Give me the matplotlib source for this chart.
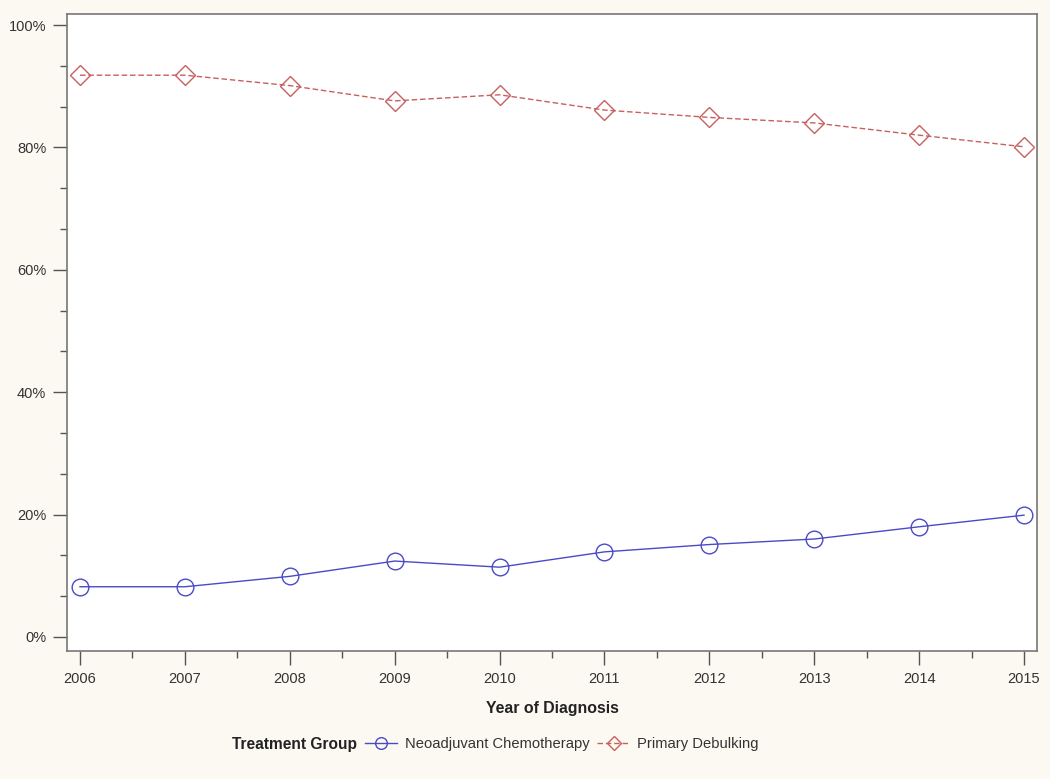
import matplotlib
matplotlib.use("Agg")
import matplotlib.pyplot as plt
from matplotlib.ticker import MultipleLocator, FuncFormatter

years = [2006, 2007, 2008, 2009, 2010, 2011, 2012, 2013, 2014, 2015]
neoadjuvant = [8.2, 8.2, 9.9, 12.4, 11.4, 13.9, 15.1, 16.0, 18.0, 19.9]
primary = [91.8, 91.8, 90.1, 87.6, 88.6, 86.1, 84.9, 84.0, 82.0, 80.1]
series_names = ["Neoadjuvant Chemotherapy", "Primary Debulking"]

plt.rcParams['font.family'] = ['Liberation Sans', 'DejaVu Sans']

fig = plt.figure(figsize=(10.5, 7.79), dpi=100)
fig.patch.set_facecolor('#fcf9f2')
ax = fig.add_axes([67/1050, 1-651/779, (1037-67)/1050, (651-14)/779])
ax.set_facecolor('white')

blue = '#4a4ac8'
red = '#c86060'
ax.plot(years, neoadjuvant, color=blue, lw=1.0, marker='o', ms=12,
        mfc='none', mec=blue, mew=1.0, label=series_names[0])
ax.plot(years, primary, color=red, lw=1.0, ls=(0, (4, 2)), marker='D', ms=10,
        mfc='none', mec=red, mew=1.0, label=series_names[1])

ax.set_xlim(2005.876, 2015.124)
ax.set_ylim(-2.3, 101.8)
ax.set_xticks(years)
ax.xaxis.set_minor_locator(MultipleLocator(0.5))
ax.yaxis.set_major_locator(MultipleLocator(20))
ax.yaxis.set_minor_locator(MultipleLocator(20/3))
ax.yaxis.set_major_formatter(FuncFormatter(lambda v, p: f"{v:.0f}%"))

for s in ax.spines.values():
    s.set_color('#777777')
    s.set_linewidth(1.2)
ax.tick_params(which='major', length=10, width=1.0, color='#555555',
               labelsize=10.5, labelcolor='#333333')
ax.tick_params(axis='y', which='major', pad=5)
ax.tick_params(axis='x', which='major', pad=5)
ax.tick_params(which='minor', length=5, width=1.0, color='#555555')

ax.set_xlabel("Year of Diagnosis", fontsize=11.4, fontweight='bold', color='#222222', labelpad=11)

fig.text(232/1050, 1-744/779, "Treatment Group", fontsize=11.2, fontweight='bold',
         color='#222222', ha='left', va='center')
leg = fig.legend(loc='center left', bbox_to_anchor=(365/1050, 1-744/779), ncol=2,
                 frameon=False, fontsize=10.6, handlelength=2.2, handletextpad=0.5,
                 columnspacing=0.55, markerscale=0.7, borderpad=0, borderaxespad=0)
for t in leg.get_texts():
    t.set_color('#333333')

fig.savefig("out.png", dpi=100, facecolor=fig.get_facecolor())
